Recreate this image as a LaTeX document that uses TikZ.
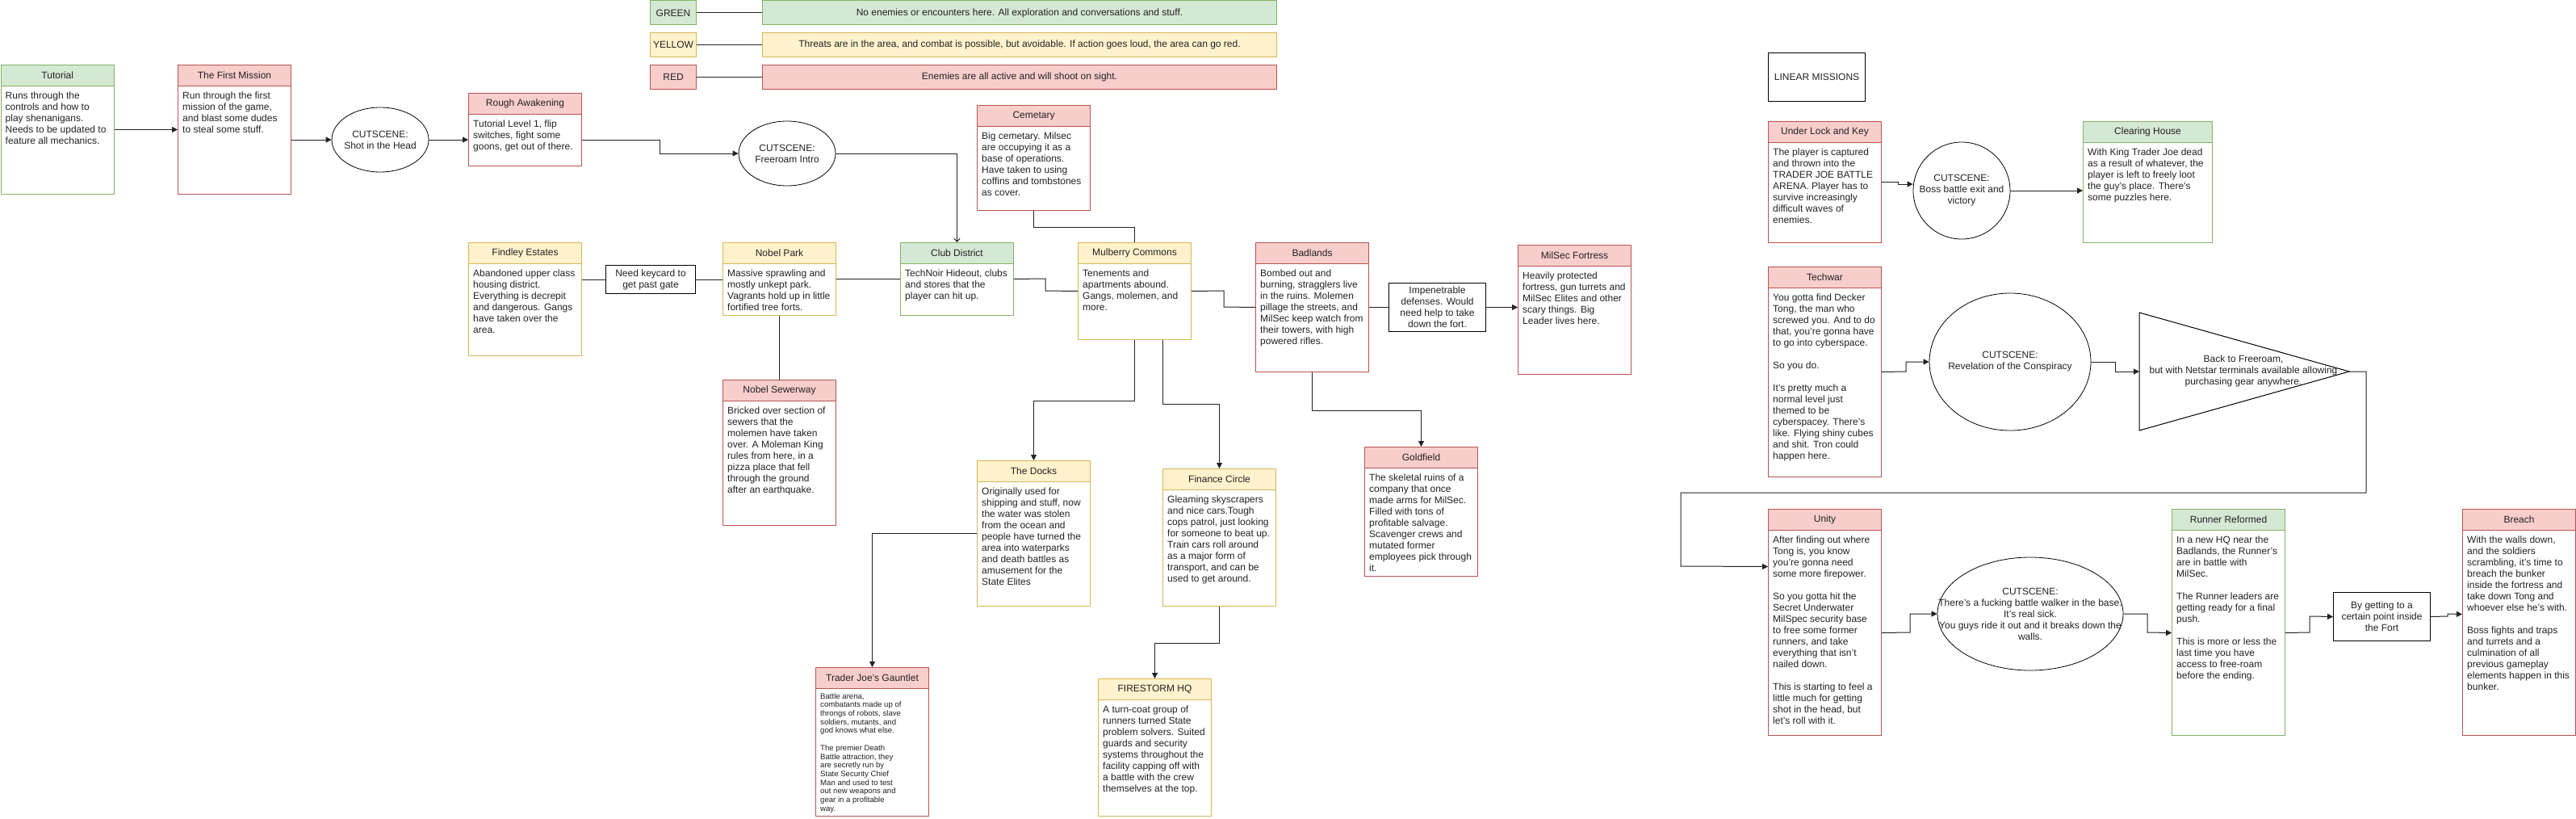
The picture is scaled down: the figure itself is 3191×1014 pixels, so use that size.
\documentclass[tikz,border=0pt]{standalone}
\usepackage{fontspec}
\setmainfont{Liberation Sans}
\usetikzlibrary{arrows.meta,shapes.geometric,calc}
\definecolor{gfill}{HTML}{D5E8D4}\definecolor{gline}{HTML}{82B366}
\definecolor{yfill}{HTML}{FFF2CC}\definecolor{yline}{HTML}{D6B656}
\definecolor{rfill}{HTML}{F8CECC}\definecolor{rline}{HTML}{B85450}
\definecolor{txt}{HTML}{222222}
\definecolor{edge}{HTML}{222222}
\newcommand\dfont{\fontsize{12}{14}\selectfont}
\newcommand\sfont{\fontsize{9.6}{10.7}\selectfont}
\tikzset{
 lanebody/.style={draw=#1line, fill=white, anchor=north west, inner sep=0pt, line width=1pt},
 lanehead/.style={draw=#1line, fill=#1fill, anchor=north west, inner sep=0pt, minimum height=26pt, line width=1pt, font=\dfont, text=txt},
 lanetext/.style={anchor=north west, inner sep=0pt, align=left, font=\dfont, text=txt},
 plainbox/.style={draw=black, fill=white, inner sep=0pt, align=center, font=\dfont, line width=1pt, text=txt, anchor=north west},
 legbox/.style={draw=#1line, fill=#1fill, inner sep=0pt, align=center, font=\dfont, line width=1pt, text=txt, anchor=north west},
 cutscene/.style={draw=black, fill=white, ellipse, inner sep=0pt, line width=0.8pt},
 cuttext/.style={inner sep=0pt, align=center, font=\dfont, text=txt},
 ln/.style={draw=edge, line width=1pt},
 arr/.style={ln, -{Triangle[length=7pt,width=7pt]}},
 arrv/.style={ln, -{Straight Barb[length=4pt,width=7pt]}},
}
\newcommand\lane[9][]{%
 \node[lanebody=#7, minimum width=#5pt, minimum height=#6pt] (#2) at (#3,#4) {};
 \node[lanehead=#7, minimum width=#5pt] (#2-h) at (#3,#4) {#8};
 \node[lanetext,#1] (#2-t) at ([xshift=6pt,yshift=-34pt]#2.north west) {#9};
}
\newcommand\cutnode[6]{%
 \node[cutscene, minimum width=#4pt, minimum height=#5pt] (#1) at (#2,#3) {};
 \node[cuttext] (#1-t) at (#1.center) {#6};
}
\begin{document}
\begin{tikzpicture}[x=1pt,y=-1pt]
\useasboundingbox[fill=white] (0,0) rectangle (3191,1014);

% legend
\node[legbox=g, minimum width=57pt, minimum height=30pt] (lg) at (805,0.5) {GREEN};
\node[legbox=y, minimum width=57pt, minimum height=30pt] (ly) at (805,40) {YELLOW};
\node[legbox=r, minimum width=57pt, minimum height=30pt] (lr) at (805,80) {RED};
\node[legbox=g, minimum width=637pt, minimum height=30pt] (lgt) at (944,0.5) {No enemies or encounters here. All exploration and conversations and stuff.};
\node[legbox=y, minimum width=637pt, minimum height=30pt] (lyt) at (944,40) {Threats are in the area, and combat is possible, but avoidable. If action goes loud, the area can go red.};
\node[legbox=r, minimum width=637pt, minimum height=30pt] (lrt) at (944,80) {Enemies are all active and will shoot on sight.};
\draw[ln] (lg.east) -- (lgt.west);
\draw[ln] (ly.east) -- (lyt.west);
\draw[ln] (lr.east) -- (lrt.west);

% main story
\lane{tut}{0.5}{80}{140.5}{160}{g}{Tutorial}{Runs through the\\controls and how to\\play shenanigans.\\Needs to be updated to\\feature all mechanics.}
\lane{fm}{220}{80}{140}{160}{r}{The First Mission}{Run through the first\\mission of the game,\\and blast some dudes\\to steal some stuff.}
\cutnode{sh}{471}{173}{120}{80}{CUTSCENE:\\Shot in the Head}
\lane{ra}{580}{115}{140}{90}{r}{Rough Awakening}{Tutorial Level 1, flip\\switches, fight some\\goons, get out of there.}
\cutnode{fi}{975}{190}{120}{80}{CUTSCENE:\\Freeroam Intro}

\lane{fe}{580}{300}{140}{140}{y}{Findley Estates}{Abandoned upper class\\housing district.\\Everything is decrepit\\and dangerous. Gangs\\have taken over the\\area.}
\node[plainbox, minimum width=111pt, minimum height=35pt] (kc) at (750,328) {Need keycard to\\get past gate};
\lane{np}{895}{300}{140}{90}{y}{Nobel Park}{Massive sprawling and\\mostly unkept park.\\Vagrants hold up in little\\fortified tree forts.}
\lane{ns}{895}{470}{140}{180}{r}{Nobel Sewerway}{Bricked over section of\\sewers that the\\molemen have taken\\over. A Moleman King\\rules from here, in a\\pizza place that fell\\through the ground\\after an earthquake.}
\lane{cd}{1115}{300}{140}{90}{g}{Club District}{TechNoir Hideout, clubs\\and stores that the\\player can hit up.}
\lane{cem}{1210}{130}{140}{130}{r}{Cemetary}{Big cemetary. Milsec\\are occupying it as a\\base of operations.\\Have taken to using\\coffins and tombstones\\as cover.}
\lane{mc}{1335}{300}{140}{120}{y}{Mulberry Commons}{Tenements and\\apartments abound.\\Gangs, molemen, and\\more.}
\lane{bl}{1555}{300}{140}{160}{r}{Badlands}{Bombed out and\\burning, stragglers live\\in the ruins. Molemen\\pillage the streets, and\\MilSec keep watch from\\their towers, with high\\powered rifles.}
\node[plainbox, minimum width=120pt, minimum height=60pt] (imp) at (1720,350) {Impenetrable\\defenses. Would\\need help to take\\down the fort.};
\lane{ms}{1880}{303}{140}{160}{r}{MilSec Fortress}{Heavily protected\\fortress, gun turrets and\\MilSec Elites and other\\scary things. Big\\Leader lives here.}
\lane{dk}{1210}{570}{140}{180}{y}{The Docks}{Originally used for\\shipping and stuff, now\\the water was stolen\\from the ocean and\\people have turned the\\area into waterparks\\and death battles as\\amusement for the\\State Elites}
\lane{fc}{1440}{580}{140}{170}{y}{Finance Circle}{Gleaming skyscrapers\\and nice cars.Tough\\cops patrol, just looking\\for someone to beat up.\\Train cars roll around\\as a major form of\\transport, and can be\\used to get around.}
\lane{gf}{1690}{553}{140}{160}{r}{Goldfield}{The skeletal ruins of a\\company that once\\made arms for MilSec.\\Filled with tons of\\profitable salvage.\\Scavenger crews and\\mutated former\\employees pick through\\it.}
\lane[font=\sfont, yshift=2pt]{tj}{1010}{826}{140}{184}{r}{Trader Joe's Gauntlet}{Battle arena,\\combatants made up of\\throngs of robots, slave\\soldiers, mutants, and\\god knows what else.\\[10.7pt]The premier Death\\Battle attraction, they\\are secretly run by\\State Security Chief\\Man and used to test\\out new weapons and\\gear in a profitable\\way.}
\lane{fh}{1360}{840}{140}{170}{y}{FIRESTORM HQ}{A turn-coat group of\\runners turned State\\problem solvers. Suited\\guards and security\\systems throughout the\\facility capping off with\\a battle with the crew\\themselves at the top.}

% linear missions
\node[plainbox, minimum width=120pt, minimum height=60pt] (lm) at (2190,65) {LINEAR MISSIONS};
\lane{ulk}{2190}{150}{140}{150}{r}{Under Lock and Key}{The player is captured\\and thrown into the\\TRADER JOE BATTLE\\ARENA. Player has to\\survive increasingly\\difficult waves of\\enemies.}
\cutnode{bb}{2430}{236}{120}{120}{CUTSCENE:\\Boss battle exit and\\victory}
\lane{ch}{2580}{150}{160}{150}{g}{Clearing House}{With King Trader Joe dead\\as a result of whatever, the\\player is left to freely loot\\the guy's place. There's\\some puzzles here.}
\lane{tw}{2190}{330}{140}{260}{r}{Techwar}{You gotta find Decker\\Tong, the man who\\screwed you. And to do\\that, you're gonna have\\to go into cyberspace.\\[14pt]So you do.\\[14pt]It's pretty much a\\normal level just\\themed to be\\cyberspacey. There's\\like. Flying shiny cubes\\and shit. Tron could\\happen here.}
\cutnode{rv}{2490}{448}{200}{170}{CUTSCENE:\\Revelation of the Conspiracy}
\draw[draw=black, line width=1pt] (2650,387) -- (2910,460) -- (2650,533) -- cycle;
\coordinate (tri-w) at (2650,460);
\coordinate (tri-e) at (2910,460);
\node[cuttext] (tri-t) at (2779,459) {Back to Freeroam,\\but with Netstar terminals available allowing\\purchasing gear anywhere.};
\lane{un}{2190}{630}{140}{280}{r}{Unity}{After finding out where\\Tong is, you know\\you're gonna need\\some more firepower.\\[14pt]So you gotta hit the\\Secret Underwater\\MilSpec security base\\to free some former\\runners, and take\\everything that isn't\\nailed down.\\[14pt]This is starting to feel a\\little much for getting\\shot in the head, but\\let's roll with it.}
\cutnode{bw}{2515}{760}{230}{140}{CUTSCENE:\\There's a fucking battle walker in the base.\\It's real sick.\\You guys ride it out and it breaks down the\\walls.}
\lane{rr}{2690}{630}{140}{280}{g}{Runner Reformed}{In a new HQ near the\\Badlands, the Runner's\\are in battle with\\MilSec.\\[14pt]The Runner leaders are\\getting ready for a final\\push.\\[14pt]This is more or less the\\last time you have\\access to free-roam\\before the ending.}
\node[plainbox, minimum width=120pt, minimum height=60pt] (fort) at (2890,733) {By getting to a\\certain point inside\\the Fort};
\lane{br}{3050}{630}{140}{280}{r}{Breach}{With the walls down,\\and the soldiers\\scrambling, it's time to\\breach the bunker\\inside the fortress and\\take down Tong and\\whoever else he's with.\\[14pt]Boss fights and traps\\and turrets and a\\culmination of all\\previous gameplay\\elements happen in this\\bunker.}

% connectors main
\draw[arr] (tut.east) -- (fm.west);
\draw[arr] (fm.east |- sh.west) -- (sh.west);
\draw[arr] (sh.east) -- (sh.east -| ra.west);
\draw[arr] (sh.east -| ra.east) -- (817,173) -- (817,190) -- (fi.west);
\draw[arrv] (fi.east) -- (cd.north |- fi.east) -- (cd.north);
\draw[ln] (fe.east |- kc.west) -- (kc.west);
\draw[ln] (kc.east) -- (kc.east -| np.west);
\draw[ln] (np.east) -- (cd.west);
\draw[ln] (np.south) -- (ns.north);
\draw[ln] (cem.south) -- ++(0,20) -| (mc.north);
\draw[ln] (cd.east) -- (1295,345) -- (1295,360) -- (mc.west);
\draw[ln] (mc.east) -- (1516,360) -- (1516,380) -- (bl.west);
\draw[ln] (bl.east) -- (imp.west);
\draw[arr] (imp.east) -- (imp.east -| ms.west);
\draw[arr] (bl.south) -- ++(0,47) -| (gf.north);
\draw[arr] (mc.south) -- ++(0,75) -| (dk.north);
\draw[arr] ([xshift=35pt]mc.south) -- ++(0,79) -| (fc.north);
\draw[arr] (dk.west) -- (tj.north |- dk.west) -- (tj.north);
\draw[arr] (fc.south) -- ++(0,45) -| (fh.north);

% connectors linear
\draw[arr] (ulk.east) -- ++(20,0) |- ([yshift=8pt]bb.west);
\draw[arr] (bb.east) -- (bb.east -| ch.west);
\draw[arr] (tw.east) -- (2361,460) -- (2361,448) -- (rv.west);
\draw[arr] (rv.east) -- (2620,448) -- (2620,460) -- (tri-w);
\draw[arr] (tri-e) -- (2931,460) -- (2931,610) -- (2082,610) -- (2082,701) -- ([yshift=69pt]un.west);
\draw[arr] ([yshift=-13pt]un.east) -- (2366,783) -- (2366,760) -- (bw.west);
\draw[arr] (bw.east) -- (2660,760) -- (2660,783) -- ([yshift=-13pt]rr.west);
\draw[arr] ([yshift=-13pt]rr.east) -- (2861,783) -- (2861,763) -- (fort.west);
\draw[arr] (fort.east) -- (3032,763) -- (3032,760) -- ([yshift=10pt]br.west);
\end{tikzpicture}
\end{document}
